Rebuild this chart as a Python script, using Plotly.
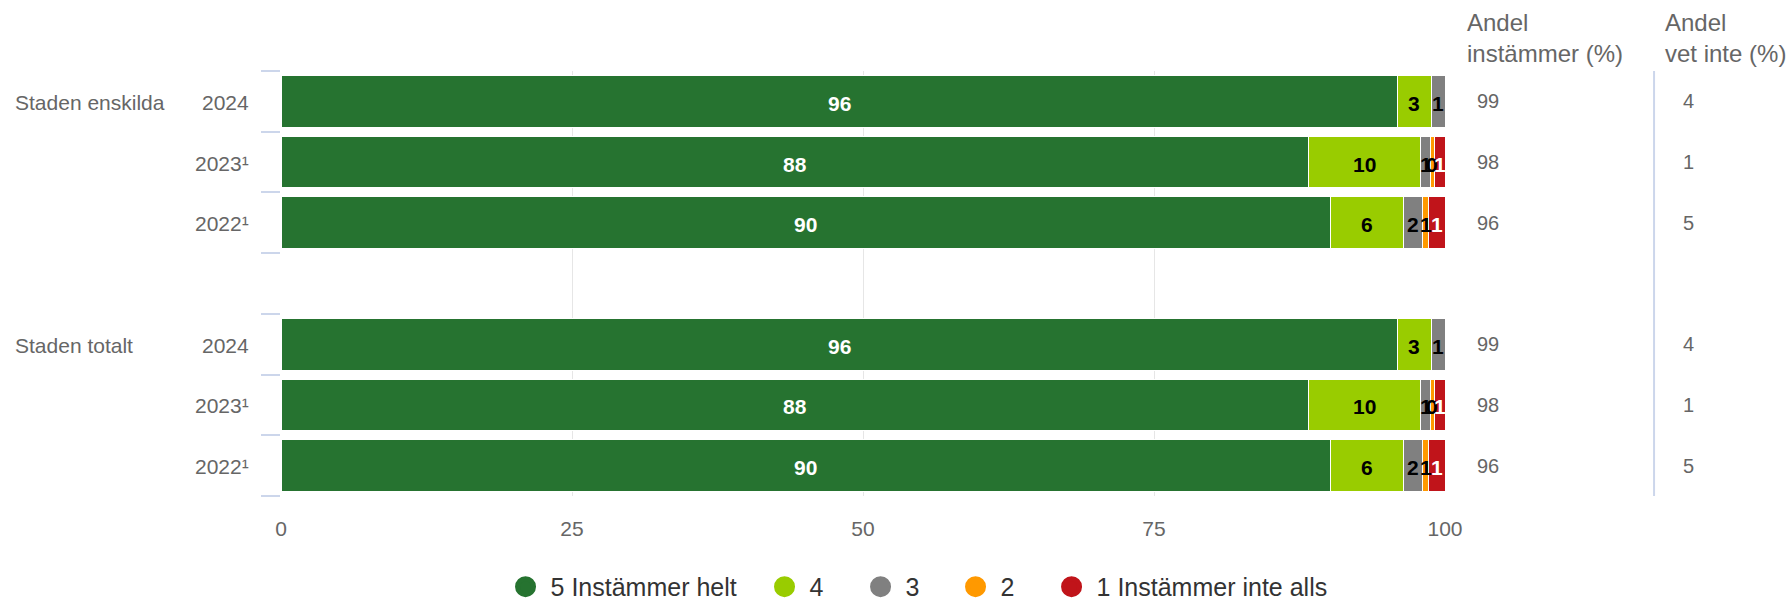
import plotly.graph_objects as go

# ---- data ----
groups = ["Staden enskilda", "Staden totalt"]
years = ["2024", "2023¹", "2022¹"]
series_names = ["5 Instämmer helt", "4", "3", "2", "1 Instämmer inte alls"]

v5 = [95.9, 88.3, 90.2, 95.9, 88.3, 90.2]
v4 = [2.9, 9.6, 6.2, 2.9, 9.6, 6.2]
v3 = [1.2, 0.85, 1.65, 1.2, 0.85, 1.65]
v2 = [0.0, 0.35, 0.55, 0.0, 0.35, 0.55]
v1 = [0.0, 0.9, 1.4, 0.0, 0.9, 1.4]

andel_instammer = [99, 98, 96, 99, 98, 96]
andel_vet_inte = [4, 1, 5, 4, 1, 5]

# ---- style ----
colors = ["#267330", "#99cc00", "#808080", "#ff9900", "#c0141a"]
label_colors = ["#ffffff", "#000000", "#000000", "#000000", "#ffffff"]
legend_x = [0.1886, 0.4111, 0.4936, 0.5752, 0.6577]
FONT = "Arial, Liberation Sans, sans-serif"
GREY = "#666666"

series = [v5, v4, v3, v2, v1]

# row positions: each group has 3 rows, with one empty row between groups
positions = []
row_year = []
for g in range(len(groups)):
    for i in range(len(years)):
        positions.append(g * (len(years) + 1) + i)
        row_year.append(years[i])
n_cat = positions[-1] + 1

fig = go.Figure()

for name, vals, col in zip(series_names, series, colors):
    fig.add_trace(go.Bar(
        x=vals, y=positions, orientation="h", name=name,
        marker=dict(color=col, line=dict(color="#ffffff", width=1)),
        showlegend=False, hoverinfo="x+name",
    ))

# legend entries (circles), one legend box per entry
legend_layouts = {}
for i, (name, col) in enumerate(zip(series_names, colors)):
    lname = "legend" if i == 0 else "legend%d" % (i + 1)
    fig.add_trace(go.Scatter(
        x=[None], y=[None], mode="markers", name=name,
        legend=lname,
        marker=dict(color=col, size=16, symbol="circle",
                    line=dict(color=col, width=5)),
        showlegend=True,
    ))
    legend_layouts[lname] = dict(
        orientation="h", x=legend_x[i], xanchor="left",
        yref="container", y=0.025, yanchor="middle",
        font=dict(family=FONT, size=25, color="#333333"),
        itemwidth=40, bgcolor="rgba(0,0,0,0)",
    )

annotations = []

def jsround(v):
    return int(v + 0.5)

# data labels
cum = [0.0] * len(positions)
for s, vals in enumerate(series):
    for k, v in enumerate(vals):
        annotations.append(dict(
            x=cum[k] + v / 2, y=positions[k], xref="x", yref="y", yshift=-2,
            text=str(jsround(v)), showarrow=False,
            font=dict(family=FONT, size=21, color=label_colors[s], weight="bold"),
        ))
        cum[k] += v

# year labels
for p, yr in zip(positions, row_year):
    annotations.append(dict(
        x=-0.026, y=p, xref="paper", yref="y", xanchor="right", yshift=-1,
        text=yr, showarrow=False, font=dict(family=FONT, size=21, color=GREY),
    ))
# group labels
for g, gname in enumerate(groups):
    annotations.append(dict(
        x=-0.2302, y=g * (len(years) + 1), xref="paper", yref="y", xanchor="left",
        yshift=-1,
        text=gname, showarrow=False, font=dict(family=FONT, size=21, color=GREY),
    ))
# right-hand columns
for p, a, b in zip(positions, andel_instammer, andel_vet_inte):
    annotations.append(dict(
        x=1.037, y=p, xref="paper", yref="y", xanchor="center",
        text=str(a), showarrow=False, font=dict(family=FONT, size=20, color=GREY),
    ))
    annotations.append(dict(
        x=1.2096, y=p, xref="paper", yref="y", xanchor="center",
        text=str(b), showarrow=False, font=dict(family=FONT, size=20, color=GREY),
    ))
annotations.append(dict(
    x=1.0172, y=1.0788, xref="paper", yref="paper", xanchor="left", yanchor="middle",
    align="left", text="Andel<br>instämmer (%)", showarrow=False,
    font=dict(family=FONT, size=24, color=GREY),
))
annotations.append(dict(
    x=1.1873, y=1.0788, xref="paper", yref="paper", xanchor="left", yanchor="middle",
    align="left", text="Andel<br>vet inte (%)", showarrow=False,
    font=dict(family=FONT, size=24, color=GREY),
))

shapes = [dict(
    type="line", xref="paper", yref="paper", x0=1.1796, x1=1.1796, y0=0, y1=1,
    line=dict(color="#ccd6eb", width=2),
)]

fig.update_layout(
    width=1788, height=602,
    margin=dict(l=281, r=343, t=71, b=106),
    paper_bgcolor="#ffffff", plot_bgcolor="#ffffff",
    barmode="stack", bargap=0.15,
    font=dict(family=FONT, color=GREY),
    xaxis=dict(
        range=[0, 100], tickvals=[0, 25, 50, 75, 100],
        showgrid=True, gridcolor="#e6e6e6", gridwidth=1,
        zeroline=False, showline=False, ticks="",
        tickfont=dict(family=FONT, size=21, color=GREY),
        ticklabelstandoff=18,
    ),
    yaxis=dict(
        range=[n_cat - 0.5, -0.5],
        tickvals=[i - 0.5 for i in range(n_cat + 1)],
        ticktext=[""] * (n_cat + 1),
        ticks="outside", ticklen=19, tickcolor="#ccd6eb", tickwidth=2,
        showgrid=False, zeroline=False, showline=False,
    ),
    annotations=annotations,
    shapes=shapes,
    **legend_layouts,
)

fig.write_html(
    "out.html",
    config={"displayModeBar": False},
    post_script="document.body.style.margin='0';",
)
